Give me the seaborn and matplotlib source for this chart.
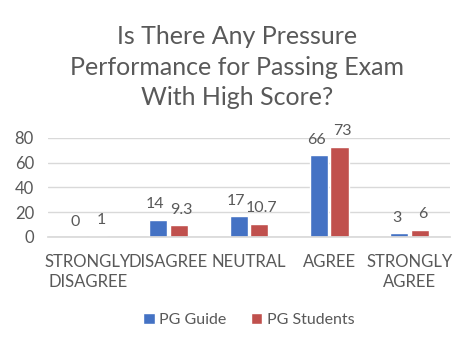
import matplotlib
matplotlib.use("Agg")
import matplotlib.pyplot as plt
import seaborn as sns
import pandas as pd

categories = ["STRONGLY\nDISAGREE", "DISAGREE", "NEUTRAL", "AGREE", "STRONGLY\nAGREE"]
pg_guide = [0, 14, 17, 66, 3]
pg_students = [1, 9.3, 10.7, 73, 6]
series = ["PG Guide", "PG Students"]
yticks = [0, 20, 40, 60, 80]

df = pd.DataFrame({
    "cat": categories * 2,
    "val": pg_guide + pg_students,
    "series": [series[0]] * len(categories) + [series[1]] * len(categories),
})

sns.set_theme(style="white")
plt.rcParams['font.family'] = ['Lato', 'DejaVu Sans']
gray = "#595959"

fig = plt.figure(figsize=(4.74, 3.49), dpi=100)
ax = fig.add_axes([0.101, 0.321, 0.848, 0.284])
sns.barplot(data=df, x="cat", y="val", hue="series", order=categories,
            hue_order=series, palette=["#4472C4", "#C0504D"],
            width=0.51, gap=0.12, ax=ax, legend=True, saturation=1)

ax.set_ylim(0, 80)
ax.set_yticks(yticks)
ax.yaxis.grid(True, color="#d9d9d9", linewidth=1)
ax.set_axisbelow(True)
for s in ["left", "right", "top"]:
    ax.spines[s].set_visible(False)
ax.spines["bottom"].set_color("#d9d9d9")
ax.tick_params(axis="both", length=0, colors=gray, labelsize=12)
ax.tick_params(axis="x", pad=12)
ax.tick_params(axis="y", pad=10)
ax.set_xlabel("")
ax.set_ylabel("")
for t in ax.get_xticklabels():
    t.set_linespacing(1.3)

for i, cont in enumerate(ax.containers):
    labels = ["%g" % v for v in cont.datavalues]
    texts = ax.bar_label(cont, labels=labels, padding=6, color=gray, fontsize=11.5, clip_on=False)
    for t in texts:
        x0, y0 = t.xyann
        t.xyann = (x0 + (-2 if i == 0 else 2), y0)

ax.legend(loc="center", bbox_to_anchor=(0.5, -0.84), bbox_transform=ax.transAxes,
          ncol=2, frameon=False, fontsize=11.5, labelcolor=gray,
          handlelength=0.7, handleheight=0.7, handletextpad=0.3, columnspacing=1.5)

fig.text(0.5, 0.808, "Is There Any Pressure\nPerformance for Passing Exam\nWith High Score?",
         ha="center", va="center", fontsize=18, color=gray, linespacing=1.4)

fig.savefig("out.png", dpi=100)
